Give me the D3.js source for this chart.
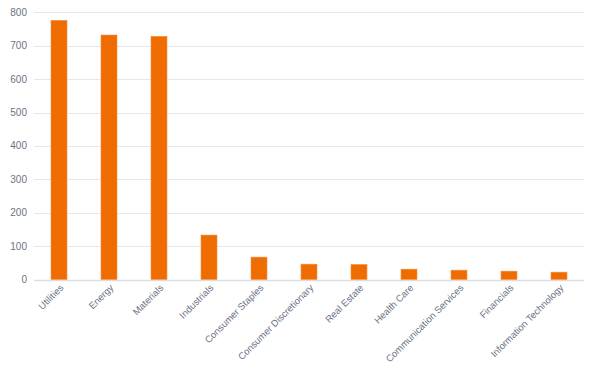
<!DOCTYPE html>
<html><head><meta charset="utf-8">
<script src="https://cdn.jsdelivr.net/npm/d3@7"></script>
<style>body{margin:0;background:#fff}svg{display:block}</style>
</head><body>
<svg id="c" width="602" height="382"></svg>
<script>
const categories = ["Utilities","Energy","Materials","Industrials","Consumer Staples","Consumer Discretionary","Real Estate","Health Care","Communication Services","Financials","Information Technology"];
const values = [776,732,728,133,67,46,45,31,28,25,22];
const yTicks = [0,100,200,300,400,500,600,700,800];

const svg = d3.select("#c");
const m = {left:34, right:18, top:12.3, bottom:102.5};
const W = 602, H = 382;
const x = d3.scaleBand().domain(categories).range([m.left, W - m.right]).paddingInner(0.68).paddingOuter(0.34);
const y = d3.scaleLinear().domain([0,800]).range([H - m.bottom, m.top]);

const font = "'Liberation Sans', Arial, sans-serif";
const g = svg.append("g");
g.selectAll("line.grid").data(yTicks).join("line")
  .attr("x1", m.left).attr("x2", W - m.right)
  .attr("y1", d => Math.round(y(d)) + 0.5).attr("y2", d => Math.round(y(d)) + 0.5)
  .attr("stroke", d => d === 0 ? "#dcdde3" : "#e6e7ec").attr("stroke-width", d => d === 0 ? 1.5 : 1);

g.selectAll("text.yl").data(yTicks).join("text")
  .attr("x", 27).attr("y", d => y(d)).attr("dy", "0.35em")
  .attr("text-anchor", "end").attr("font-family", font).attr("font-size", 10)
  .attr("fill", "#6b7385").text(d => d);

g.selectAll("rect").data(values).join("rect")
  .attr("x", (d,i) => x(categories[i])).attr("width", x.bandwidth())
  .attr("y", d => y(d)).attr("height", d => y(0) - y(d))
  .attr("fill", "#ef6c00").attr("stroke", "#f5934a").attr("stroke-width", 0.6);

g.selectAll("text.xl").data(categories).join("text")
  .attr("transform", d => `translate(${x(d) + x.bandwidth()/2 + 5},${y(0) + 9}) rotate(-45)`)
  .attr("text-anchor", "end").attr("font-family", font).attr("font-size", 9.5)
  .attr("fill", "#6b7385").text(d => d);
</script>
</body></html>
